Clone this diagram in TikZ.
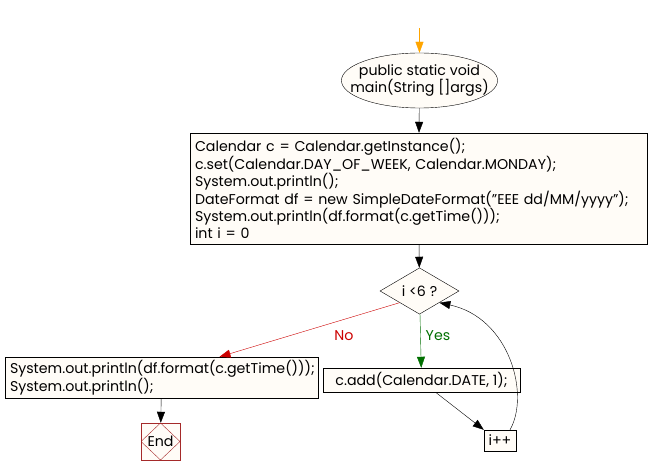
\documentclass[tikz,border=0pt]{standalone}
\usepackage{fontspec}
\setmainfont{Poppins}
\usetikzlibrary{positioning,arrows.meta,shapes.geometric}
\definecolor{boxfill}{HTML}{FFFCF7}
\definecolor{startor}{HTML}{FFA500}
\definecolor{noclr}{HTML}{CC0000}
\definecolor{yesclr}{HTML}{006F00}
\definecolor{endclr}{HTML}{A52A2A}
\begin{document}
\begin{tikzpicture}[x=1pt, y=-1pt, font=\fontsize{14.2}{17}\selectfont, >={Triangle[length=11pt,width=8pt]},
  box/.style={draw, fill=boxfill, align=left, inner xsep=5pt, inner ysep=2pt},
  cond/.style={draw, diamond, fill=boxfill, minimum width=79pt, minimum height=46pt, inner sep=0pt},
  endbox/.style={draw=endclr, fill=boxfill, minimum width=39pt, minimum height=37pt, inner sep=0pt,
    path picture={\draw[endclr] (path picture bounding box.north) -- (path picture bounding box.east)
      -- (path picture bounding box.south) -- (path picture bounding box.west) -- cycle;}}]
\useasboundingbox (0,0) rectangle (649,476);
\coordinate (start) at (419.5,28);
\node[draw, ellipse, fill=boxfill, minimum height=55pt, inner xsep=-14pt, inner ysep=0pt, align=center]
  (main) at (419.5,80.5) {public static void\\main(String []args)};
\node[box, text width=447pt, minimum height=111pt] (init) at (418.5,188.5)
  {Calendar c = Calendar.getInstance();\\
   c.set(Calendar.DAY\_OF\_WEEK, Calendar.MONDAY);\\
   System.out.println();\\
   DateFormat df = new SimpleDateFormat("EEE dd/MM/yyyy");\\
   System.out.println(df.format(c.getTime()));\\
   int i = 0};
\node[cond] (test) at (419.5,291) {i <6 ?};
\node[box, text width=303pt, minimum height=41pt] (prnt) at (161.5,377.5)
  {System.out.println(df.format(c.getTime()));\\
   System.out.println();};
\node[box, minimum width=197pt, minimum height=24pt, align=center] (add) at (421.5,380)
  {c.add(Calendar.DATE, 1);};
\node[box, minimum width=32pt, minimum height=21pt, inner xsep=2pt, align=center] (inc) at (500,440.5) {i++};
\node[endbox] (stop) at (160.5,441.5) {End};
% connectors
\draw[->, startor] (start) -- (main);
\draw[->] (main) -- (init);
\draw[->] (init) -- (test);
\draw[->, noclr] (test.south west) -- ([xshift=58pt]prnt.north);
\node[noclr] (nolbl) at (344,336) {No};
\draw[->, yesclr] (test) -- (add);
\node[yesclr] (yeslbl) at (438,336) {Yes};
\draw[->] ([xshift=14pt]add.south) -- (inc.north west);
\draw[->] ([xshift=10pt]inc.north) .. controls (530,395) and (510,318) .. (test.south east);
\draw[->] (prnt) -- (stop);
\end{tikzpicture}
\end{document}
